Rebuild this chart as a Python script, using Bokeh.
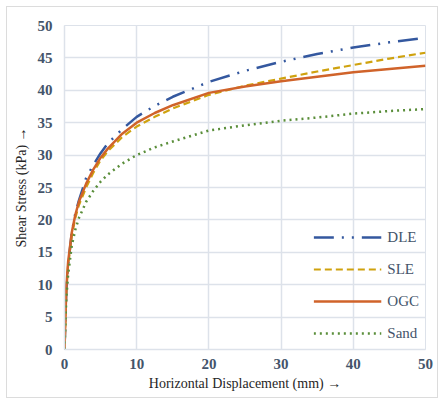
from bokeh.plotting import figure
from bokeh.models import Range1d, FixedTicker, Legend, LegendItem
from bokeh.embed import file_html
from bokeh.resources import INLINE

# Data
disp = [0, 0.25, 0.5, 1, 1.5, 2, 3, 4, 5, 6, 8, 10, 12.5, 15, 20, 25, 30, 35, 40, 45, 50]
dle = [0, 9, 13, 18, 21, 23, 26.5, 28.5, 30.3, 31.8, 34, 35.9, 37.6, 39, 41.3, 43, 44.4, 45.6, 46.6, 47.4, 48.1]
sle = [0, 9, 13, 17.5, 20.3, 22.3, 25, 27.3, 29.2, 30.6, 32.8, 34.4, 35.9, 37.2, 39.3, 40.7, 41.8, 42.9, 43.9, 44.9, 45.8]
ogc = [0, 9.5, 13.5, 18, 20.8, 22.8, 25.6, 27.8, 29.6, 31, 33.3, 35, 36.5, 37.7, 39.6, 40.6, 41.4, 42.1, 42.8, 43.3, 43.8]
sand = [0, 8, 11.5, 16, 18.5, 20.3, 22.8, 24.5, 25.9, 27, 28.7, 30, 31.2, 32.1, 33.8, 34.6, 35.3, 35.8, 36.4, 36.8, 37.1]
x_ticks = [0, 10, 20, 30, 40, 50]
y_ticks = [0, 5, 10, 15, 20, 25, 30, 35, 40, 45, 50]

GRID = "#DDE2EA"
TICK = "#44546A"
FONT = "Liberation Serif"

p = figure(width=432, height=392, output_backend="svg", toolbar_location=None,
           x_range=Range1d(0, 50), y_range=Range1d(0, 50))
p.min_border_left = 57
p.min_border_right = 14
p.min_border_top = 18
p.min_border_bottom = 50
p.styles = {"border": "1px solid #DCDCDC", "box-sizing": "border-box",
            "margin-left": "6px", "margin-top": "6px"}

p.outline_line_color = GRID
p.xgrid.grid_line_color = GRID
p.ygrid.grid_line_color = GRID
p.xgrid.grid_line_width = 1.5
p.ygrid.grid_line_width = 1.5
p.xaxis.ticker = FixedTicker(ticks=x_ticks)
p.yaxis.ticker = FixedTicker(ticks=y_ticks)
for ax in (p.xaxis[0], p.yaxis[0]):
    ax.axis_line_color = GRID
    ax.axis_line_width = 1.5
    ax.major_tick_line_color = None
    ax.minor_tick_line_color = None
    ax.major_tick_out = 0
    ax.major_tick_in = 0
    ax.major_label_text_font = FONT
    ax.major_label_text_font_style = "bold"
    ax.major_label_text_font_size = "15px"
    ax.major_label_text_color = TICK
    ax.axis_label_text_font = FONT
    ax.axis_label_text_font_style = "normal"
    ax.axis_label_text_font_size = "14px"
    ax.axis_label_text_color = "#262626"
p.xaxis.axis_label = "Horizontal Displacement (mm) →"
p.yaxis.axis_label = "Shear Stress (kPa) →"
p.xaxis.major_label_standoff = 9
p.yaxis.major_label_standoff = 12
p.xaxis.axis_label_standoff = 4
p.yaxis.axis_label_standoff = 6

r_dle = p.line(disp, dle, line_color="#34589F", line_width=2.5, line_dash="20 8 2 8 2 8")
r_sle = p.line(disp, sle, line_color="#CFA20E", line_width=2.2, line_dash="7 4")
r_ogc = p.line(disp, ogc, line_color="#D0632A", line_width=2.5)
r_sand = p.line(disp, sand, line_color="#5A8E3A", line_width=2.5, line_dash="2 4")

legend = Legend(items=[
    LegendItem(label="DLE", renderers=[r_dle]),
    LegendItem(label="SLE", renderers=[r_sle]),
    LegendItem(label="OGC", renderers=[r_ogc]),
    LegendItem(label="Sand", renderers=[r_sand]),
], location="bottom_right")
legend.background_fill_alpha = 0
legend.border_line_color = None
legend.glyph_width = 68
legend.glyph_height = 20
legend.spacing = 12
legend.label_standoff = 6
legend.margin = 6
legend.padding = 5
legend.label_text_font = FONT
legend.label_text_font_size = "15px"
legend.label_text_color = "#44546A"
p.add_layout(legend)

open("out.html", "w").write(file_html(p, INLINE))
